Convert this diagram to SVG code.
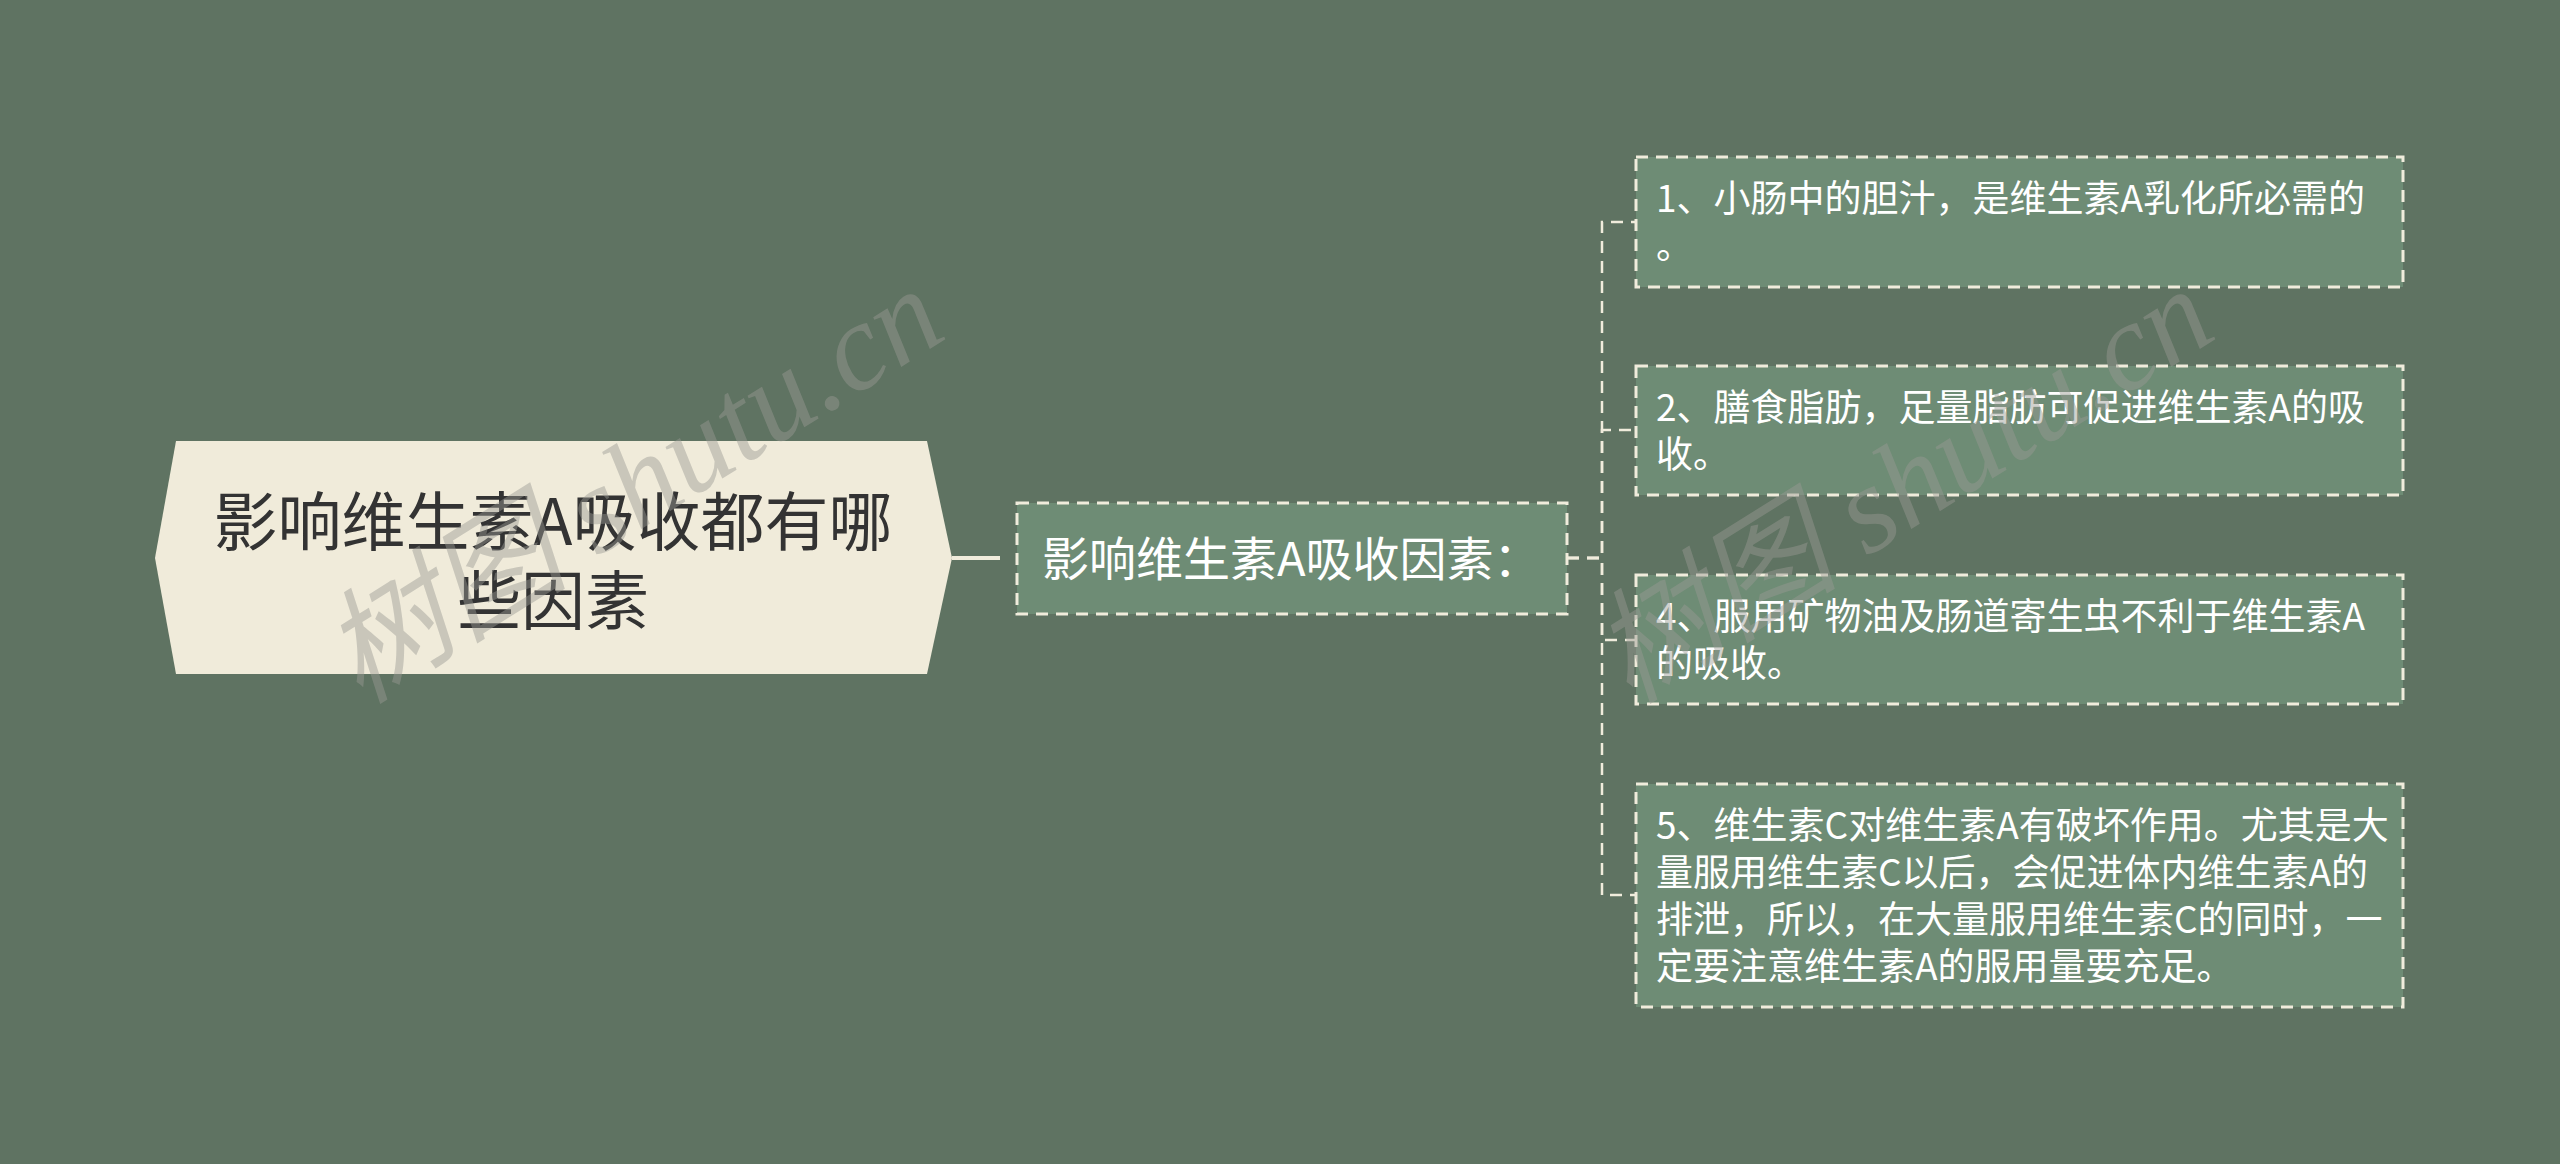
<svg xmlns="http://www.w3.org/2000/svg" width="2560" height="1164" viewBox="0 0 2560 1164">
<style>
.bg{fill:#5f7362}
.leaf{fill:#6e8c75;stroke:#f0ecdc;stroke-width:3;stroke-dasharray:12 8}
.conn{fill:none;stroke:#f0ecdc;stroke-width:2.5;stroke-dasharray:12 8}
.t{font-family:"Noto Sans CJK SC","Noto Sans",sans-serif;fill:#ffffff}
.rt{font-size:64px;fill:#333333}
.lt{font-size:37px}
.wm{font-family:"Liberation Serif","Noto Sans CJK SC",serif;font-style:italic;font-size:124px;fill:#9a9a94;opacity:0.45}
</style>
<rect class="bg" x="0" y="0" width="2560" height="1164"/>
<g id="connectors">
<line x1="952" y1="558" x2="1000" y2="558" stroke="#f0ecdc" stroke-width="4"/>
<path class="conn" d="M1567,558 H1602 V222 H1636"/>
<path class="conn" d="M1567,558 H1602 V430 H1636"/>
<path class="conn" d="M1567,558 H1602 V640 H1636"/>
<path class="conn" d="M1567,558 H1602 V895 H1636"/>
</g>
<g id="root">
<polygon points="155,558 176,441 927,441 952,558 927,674 176,674" fill="#f0ebda"/>
<text class="t rt" x="553" y="545" text-anchor="middle">影响维生素A吸收都有哪</text>
<text class="t rt" x="553" y="624" text-anchor="middle">些因素</text>
</g>
<g id="middle">
<rect class="leaf" x="1017" y="503" width="550" height="111"/>
<text class="t" x="1042" y="576" font-size="47">影响维生素A吸收因素：</text>
</g>
<g id="leaf1">
<rect class="leaf" x="1636" y="157" width="767" height="130"/>
<text class="t lt" x="1656" y="212">1、小肠中的胆汁，是维生素A乳化所必需的</text>
<text class="t lt" x="1656" y="259">。</text>
</g>
<g id="leaf2">
<rect class="leaf" x="1636" y="366" width="767" height="129"/>
<text class="t lt" x="1656" y="421">2、膳食脂肪，足量脂肪可促进维生素A的吸</text>
<text class="t lt" x="1656" y="468">收。</text>
</g>
<g id="leaf4">
<rect class="leaf" x="1636" y="575" width="767" height="129"/>
<text class="t lt" x="1656" y="630">4、服用矿物油及肠道寄生虫不利于维生素A</text>
<text class="t lt" x="1656" y="677">的吸收。</text>
</g>
<g id="leaf5">
<rect class="leaf" x="1636" y="784" width="767" height="223"/>
<text class="t lt" x="1656" y="839">5、维生素C对维生素A有破坏作用。尤其是大</text>
<text class="t lt" x="1656" y="886">量服用维生素C以后，会促进体内维生素A的</text>
<text class="t lt" x="1656" y="933">排泄，所以，在大量服用维生素C的同时，一</text>
<text class="t lt" x="1656" y="980">定要注意维生素A的服用量要充足。</text>
</g>
<g id="watermarks">
<text class="wm" transform="translate(360,705) rotate(-32)">树图 shutu.cn</text>
<text class="wm" transform="translate(1630,705) rotate(-32)">树图 shutu.cn</text>
</g>
</svg>
